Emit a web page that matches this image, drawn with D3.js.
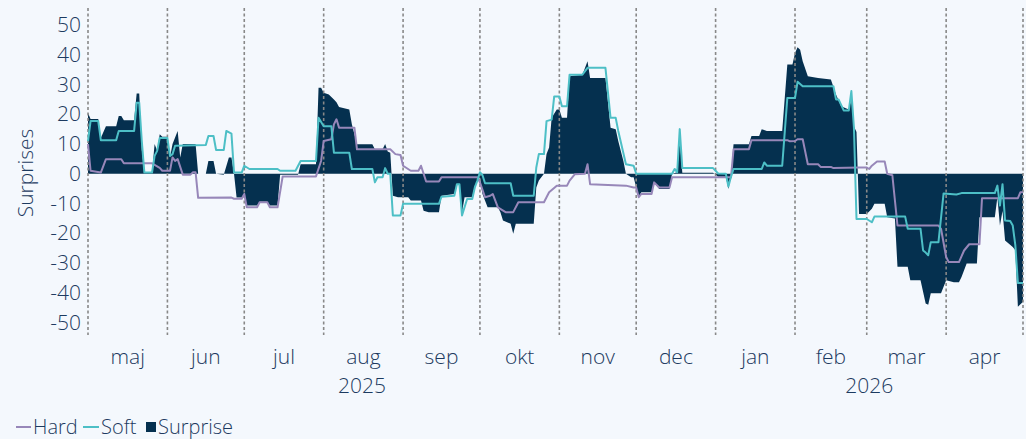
<!DOCTYPE html>
<html>
<head>
<meta charset="utf-8">
<script src="https://cdn.jsdelivr.net/npm/d3@7"></script>
<style>
  html, body { margin: 0; padding: 0; background: #f4f8fd; }
  svg { display: block; font-family: "Open Sans", "Lato", sans-serif; font-weight: 300; }
</style>
</head>
<body>
<svg id="chart-svg"></svg>
<script>
// month labels (Danish) and year labels
const monthLabels = ["maj", "jun", "jul", "aug", "sep", "okt", "nov", "dec", "jan", "feb", "mar", "apr"];
const yearLabels = [["2025", "2025-08-16"], ["2026", "2026-03-02"]];
const yTicks = [50, 40, 30, 20, 10, 0, -10, -20, -30, -40, -50];

const hard = [
  ["2025-05-01", 10], ["2025-05-02", 1], ["2025-05-06", 0.4], ["2025-05-08", 4.9], ["2025-05-14", 4.9],
  ["2025-05-15", 3.5], ["2025-05-26", 3.5], ["2025-05-29", 2], ["2025-05-30", 1], ["2025-06-02", 1],
  ["2025-06-03", 5.5], ["2025-06-04", 4.3], ["2025-06-05", 4.9], ["2025-06-07", -0.3], ["2025-06-10", -0.3],
  ["2025-06-11", 0.5], ["2025-06-12", 0.5], ["2025-06-13", -8.1], ["2025-06-26", -8], ["2025-06-27", -8.4],
  ["2025-06-30", -8.4], ["2025-07-01", -6.8], ["2025-07-02", -11.3], ["2025-07-06", -11.3], ["2025-07-07", -9.6],
  ["2025-07-10", -9.6], ["2025-07-11", -11.3], ["2025-07-14", -11.3], ["2025-07-16", -0.9], ["2025-07-29", -0.9],
  ["2025-07-31", 4.3], ["2025-08-01", 11], ["2025-08-04", 11.6], ["2025-08-05", 16.6], ["2025-08-06", 18.3],
  ["2025-08-07", 15.5], ["2025-08-13", 15.5], ["2025-08-14", 8.2], ["2025-08-27", 8.2], ["2025-08-29", 6.6],
  ["2025-08-31", 6.3], ["2025-09-01", 2.7], ["2025-09-04", 1], ["2025-09-07", 1], ["2025-09-08", 2.7],
  ["2025-09-10", -2.6], ["2025-09-15", -2.6], ["2025-09-16", -1.2], ["2025-09-30", -1.2], ["2025-10-01", -2.9],
  ["2025-10-03", -7.9], ["2025-10-05", -7.4], ["2025-10-06", -6.8], ["2025-10-08", -11.3], ["2025-10-11", -12.9],
  ["2025-10-14", -12.9], ["2025-10-16", -9.6], ["2025-10-26", -9.6], ["2025-10-28", -6.2], ["2025-10-31", -4],
  ["2025-11-04", -4], ["2025-11-05", -2.3], ["2025-11-07", -0.2], ["2025-11-11", 0], ["2025-11-12", 3.2],
  ["2025-11-13", -3.5], ["2025-11-27", -4], ["2025-11-30", -4.6], ["2025-12-01", -4.6], ["2025-12-02", -7.9],
  ["2025-12-03", -6.8], ["2025-12-07", -6.8], ["2025-12-08", -2.9], ["2025-12-10", -4.6], ["2025-12-14", -4.6],
  ["2025-12-15", -1.2], ["2026-01-07", -1.2], ["2026-01-08", 8.2], ["2026-01-14", 8.2], ["2026-01-15", 11.3],
  ["2026-01-29", 11.3], ["2026-01-30", 10.9], ["2026-02-01", 11], ["2026-02-02", 11.6], ["2026-02-04", 11.6],
  ["2026-02-06", 3.2], ["2026-02-10", 3.2], ["2026-02-11", 2.3], ["2026-02-15", 2.3], ["2026-02-16", 1.9],
  ["2026-02-26", 2.1], ["2026-03-01", 2.1], ["2026-03-02", 1.6], ["2026-03-03", 2.7], ["2026-03-05", 4.1],
  ["2026-03-08", 4.1], ["2026-03-09", 0], ["2026-03-11", -0.5], ["2026-03-13", -17.4], ["2026-03-29", -17.4],
  ["2026-03-30", -18.5], ["2026-04-01", -28], ["2026-04-02", -29.7], ["2026-04-06", -29.7], ["2026-04-08", -25.8],
  ["2026-04-10", -23.7], ["2026-04-14", -23.7], ["2026-04-15", -8.2], ["2026-04-29", -8.2], ["2026-04-30", -6.2],
  ["2026-05-01", -6.2]
];

const soft = [
  ["2025-05-01", 11], ["2025-05-02", 17.7], ["2025-05-05", 17.7], ["2025-05-06", 11.3], ["2025-05-12", 11.3],
  ["2025-05-13", 14.4], ["2025-05-19", 14.4], ["2025-05-20", 23.9], ["2025-05-21", 23.9], ["2025-05-22", 11],
  ["2025-05-23", 0.4], ["2025-05-26", 0.4], ["2025-05-27", 6], ["2025-05-28", 7.7], ["2025-05-29", 12],
  ["2025-06-01", 12], ["2025-06-02", 6], ["2025-06-03", 6.6], ["2025-06-04", 9.4], ["2025-06-16", 9.7],
  ["2025-06-17", 12.7], ["2025-06-19", 12.7], ["2025-06-20", 8], ["2025-06-23", 8], ["2025-06-24", 14.4],
  ["2025-06-26", 13.5], ["2025-06-27", 0.4], ["2025-06-30", 0.4], ["2025-07-01", 2.7], ["2025-07-03", 1.6],
  ["2025-07-14", 1.6], ["2025-07-15", 1], ["2025-07-21", 1], ["2025-07-23", 4.3], ["2025-07-29", 4.3],
  ["2025-07-30", 18.8], ["2025-08-01", 16], ["2025-08-04", 16], ["2025-08-05", 7.1], ["2025-08-11", 7.1],
  ["2025-08-12", 1.6], ["2025-08-20", 1.6], ["2025-08-21", -2.9], ["2025-08-22", -1.2], ["2025-08-24", -1.2],
  ["2025-08-25", 1.9], ["2025-08-26", 0], ["2025-08-27", 0], ["2025-08-28", -14], ["2025-08-31", -14],
  ["2025-09-01", -10.1], ["2025-09-15", -10.1], ["2025-09-16", -7.7], ["2025-09-21", -7.4], ["2025-09-22", -3.5],
  ["2025-09-23", -3.5], ["2025-09-24", -14], ["2025-09-26", -8.5], ["2025-09-28", -8.5], ["2025-09-29", -4.6],
  ["2025-09-30", -2.3], ["2025-10-01", 0.5], ["2025-10-02", -0.5], ["2025-10-03", -3.2], ["2025-10-13", -3.2],
  ["2025-10-14", -7.4], ["2025-10-22", -7.4], ["2025-10-23", 2.1], ["2025-10-24", 6.6], ["2025-10-26", 6.6],
  ["2025-10-27", 17.7], ["2025-10-29", 18.2], ["2025-10-30", 26], ["2025-11-01", 26], ["2025-11-02", 22.7],
  ["2025-11-04", 22.7], ["2025-11-05", 33.3], ["2025-11-10", 33.3], ["2025-11-12", 35.6], ["2025-11-19", 35.6],
  ["2025-11-21", 18.8], ["2025-11-23", 18.8], ["2025-11-24", 14.4], ["2025-11-27", 3.2], ["2025-11-30", 2.7],
  ["2025-12-01", 0], ["2025-12-15", 0], ["2025-12-16", 1.6], ["2025-12-17", 0.5], ["2025-12-18", 15],
  ["2025-12-19", 1.9], ["2025-12-31", 1.9], ["2026-01-02", 0.1], ["2026-01-05", 0], ["2026-01-06", -4.3],
  ["2026-01-07", -1], ["2026-01-08", 1.6], ["2026-01-19", 1.6], ["2026-01-20", 3.8], ["2026-01-21", 2.7],
  ["2026-01-27", 2.7], ["2026-01-29", 25.5], ["2026-02-01", 25.5], ["2026-02-02", 30.9], ["2026-02-04", 29.4],
  ["2026-02-16", 29.4], ["2026-02-17", 25], ["2026-02-18", 25], ["2026-02-20", 21.3], ["2026-02-22", 21.3],
  ["2026-02-23", 27.8], ["2026-02-24", 15.5], ["2026-02-25", -15.2], ["2026-03-01", -15.2], ["2026-03-03", -16.3],
  ["2026-03-04", -14.4], ["2026-03-16", -14.4], ["2026-03-17", -18.5], ["2026-03-22", -18.5], ["2026-03-23", -25.8],
  ["2026-03-24", -26.5], ["2026-03-25", -27.4], ["2026-03-26", -23], ["2026-03-29", -23], ["2026-03-31", -6.6],
  ["2026-04-05", -7], ["2026-04-07", -6.5], ["2026-04-20", -6.5], ["2026-04-21", -4], ["2026-04-22", -10.7],
  ["2026-04-23", -3.5], ["2026-04-24", -15.7], ["2026-04-26", -15.9], ["2026-04-27", -17.4], ["2026-04-28", -24],
  ["2026-04-29", -36.7], ["2026-05-01", -36.7]
];

const surprise = [
  ["2025-05-01", 20.4], ["2025-05-02", 18.4], ["2025-05-05", 18.4], ["2025-05-06", 12], ["2025-05-08", 16],
  ["2025-05-12", 16], ["2025-05-13", 19.4], ["2025-05-14", 19.4], ["2025-05-15", 18], ["2025-05-19", 18],
  ["2025-05-20", 27], ["2025-05-21", 27], ["2025-05-22", 8], ["2025-05-23", 0.5], ["2025-05-26", 0.5],
  ["2025-05-27", 10], ["2025-05-28", 7.7], ["2025-05-29", 13.3], ["2025-05-30", 12.4], ["2025-06-01", 12.4],
  ["2025-06-02", 5.5], ["2025-06-03", 10], ["2025-06-05", 14.4], ["2025-06-06", 5.5], ["2025-06-07", 10],
  ["2025-06-12", 10], ["2025-06-13", 0], ["2025-06-16", 0], ["2025-06-17", 4.3], ["2025-06-19", 4.3],
  ["2025-06-20", 0], ["2025-06-23", -0.3], ["2025-06-25", 5.5], ["2025-06-26", 5.5], ["2025-06-27", 0],
  ["2025-06-28", -8], ["2025-06-30", -8], ["2025-07-01", -7], ["2025-07-02", -10.7], ["2025-07-06", -10.7],
  ["2025-07-07", -9.4], ["2025-07-10", -9.4], ["2025-07-11", -10.7], ["2025-07-14", -10.7], ["2025-07-15", -0.3],
  ["2025-07-22", -0.3], ["2025-07-23", 3.2], ["2025-07-29", 3.2], ["2025-07-30", 28.9], ["2025-07-31", 28.9],
  ["2025-08-01", 27.2], ["2025-08-03", 26.6], ["2025-08-05", 25], ["2025-08-06", 24], ["2025-08-07", 22.4],
  ["2025-08-11", 21.6], ["2025-08-12", 16.6], ["2025-08-14", 9.9], ["2025-08-20", 9.9], ["2025-08-21", 8.2],
  ["2025-08-24", 8.2], ["2025-08-25", 10], ["2025-08-26", 7.5], ["2025-08-27", 7.1], ["2025-08-28", -7.4],
  ["2025-08-30", -7.9], ["2025-09-03", -7.9], ["2025-09-04", -9], ["2025-09-08", -9], ["2025-09-09", -12.4],
  ["2025-09-11", -12.9], ["2025-09-15", -12.9], ["2025-09-16", -7.4], ["2025-09-21", -6.8], ["2025-09-22", -3.5],
  ["2025-09-23", -3.5], ["2025-09-24", -13], ["2025-09-25", -7.9], ["2025-09-28", -7.9], ["2025-09-29", -4],
  ["2025-10-01", -1.2], ["2025-10-02", -6.8], ["2025-10-04", -11.3], ["2025-10-08", -11.3], ["2025-10-09", -12.9],
  ["2025-10-10", -15.7], ["2025-10-13", -16.8], ["2025-10-14", -20.2], ["2025-10-15", -16.8], ["2025-10-22", -16.8],
  ["2025-10-23", -4.6], ["2025-10-24", -2.3], ["2025-10-26", 0], ["2025-10-27", 6.6], ["2025-10-28", 8.8],
  ["2025-10-29", 18.8], ["2025-10-31", 21.6], ["2025-11-01", 21.6], ["2025-11-02", 18.8], ["2025-11-04", 18.8],
  ["2025-11-05", 32.8], ["2025-11-10", 33.3], ["2025-11-12", 37.8], ["2025-11-13", 32.2], ["2025-11-19", 32.2],
  ["2025-11-21", 15.5], ["2025-11-23", 15], ["2025-11-24", 11], ["2025-11-26", 4.3], ["2025-11-27", 0],
  ["2025-11-29", -1.2], ["2025-11-30", -1.2], ["2025-12-02", -7.9], ["2025-12-03", -6.2], ["2025-12-07", -6.2],
  ["2025-12-08", -3], ["2025-12-10", -5.1], ["2025-12-14", -5.1], ["2025-12-15", 0], ["2025-12-17", 0.5],
  ["2025-12-18", 12], ["2025-12-19", 0.3], ["2025-12-31", 0.3], ["2026-01-02", -1], ["2026-01-05", -1],
  ["2026-01-06", -5.1], ["2026-01-07", -1], ["2026-01-08", 9.9], ["2026-01-14", 9.9], ["2026-01-15", 12.7],
  ["2026-01-18", 12.7], ["2026-01-19", 15], ["2026-01-21", 14.4], ["2026-01-27", 14.4], ["2026-01-29", 36.7],
  ["2026-01-31", 36.7], ["2026-02-01", 40.6], ["2026-02-02", 42.5], ["2026-02-03", 41.7], ["2026-02-04", 37.8],
  ["2026-02-06", 32.8], ["2026-02-10", 32.2], ["2026-02-15", 31.7], ["2026-02-17", 26.6], ["2026-02-19", 22.7],
  ["2026-02-22", 21.6], ["2026-02-23", 25], ["2026-02-24", 16], ["2026-02-25", 14], ["2026-02-26", -13.5],
  ["2026-03-01", -13.5], ["2026-03-03", -11.8], ["2026-03-04", -10.1], ["2026-03-08", -10.1], ["2026-03-09", -14.6],
  ["2026-03-12", -15], ["2026-03-13", -31.3], ["2026-03-17", -31.3], ["2026-03-18", -35.8], ["2026-03-22", -35.8],
  ["2026-03-24", -43.6], ["2026-03-25", -44], ["2026-03-26", -40.2], ["2026-03-30", -40.2], ["2026-04-01", -35.8],
  ["2026-04-04", -36.5], ["2026-04-06", -36.5], ["2026-04-07", -34.7], ["2026-04-09", -30.2], ["2026-04-13", -30.2],
  ["2026-04-14", -14.6], ["2026-04-20", -14.6], ["2026-04-21", -7.9], ["2026-04-22", -17.4], ["2026-04-23", -12.5],
  ["2026-04-24", -22.4], ["2026-04-27", -24.6], ["2026-04-28", -25.7], ["2026-04-29", -44.7], ["2026-05-01", -43]
];

const parse = d3.timeParse("%Y-%m-%d");
function toPoints(arr) {
  return arr.map(function(d) { return { date: parse(d[0]), value: d[1] }; });
}
const hardData = toPoints(hard), softData = toPoints(soft), surpriseData = toPoints(surprise);

const width = 1026, height = 439;
const colNavy = "#05304f", colTeal = "#4dbfc6", colPurple = "#9787b9", colText = "#1c3a60";

const svg = d3.select("#chart-svg").attr("width", width).attr("height", height);

const x = d3.scaleTime()
  .domain([parse("2025-05-01"), parse("2026-05-01")])
  .range([88, 1023]);
const y = d3.scaleLinear().domain([-50, 50]).range([322.5, 25]);

// surprise area
svg.append("path")
  .datum(surpriseData)
  .attr("fill", colNavy)
  .attr("d", d3.area().x(function(d) { return x(d.date); }).y0(y(0)).y1(function(d) { return y(d.value); }));

// month grid lines
const monthStarts = d3.timeMonth.range(parse("2025-05-01"), d3.timeDay.offset(parse("2026-05-01"), 1));
svg.append("g").selectAll("line")
  .data(monthStarts)
  .enter()
  .append("line")
  .attr("x1", function(d) { return x(d); })
  .attr("x2", function(d) { return x(d); })
  .attr("y1", 8)
  .attr("y2", 335)
  .attr("stroke", "#888888")
  .attr("stroke-width", 1.6)
  .attr("stroke-dasharray", "3,2.5");

const line = d3.line().x(function(d) { return x(d.date); }).y(function(d) { return y(d.value); });
svg.append("path").datum(hardData)
  .attr("fill", "none").attr("stroke", colPurple).attr("stroke-width", 2).attr("stroke-linejoin", "round")
  .attr("d", line);
svg.append("path").datum(softData)
  .attr("fill", "none").attr("stroke", colTeal).attr("stroke-width", 2).attr("stroke-linejoin", "round")
  .attr("d", line);

// y axis labels
const yAxis = svg.append("g")
  .attr("transform", "translate(81,0)")
  .call(d3.axisLeft(y).tickValues(yTicks).tickSize(0).tickPadding(0).tickFormat(function(d) { return String(d); }));
yAxis.select(".domain").remove();
yAxis.selectAll("text")
  .attr("fill", colText)
  .style("font-size", "21px")
  .style("font-family", "'Open Sans', Lato, sans-serif")
  .style("font-weight", 300);

svg.append("text")
  .attr("transform", "translate(33,173) rotate(-90)")
  .attr("text-anchor", "middle")
  .attr("fill", colText)
  .style("font-size", "21px")
  .text("Surprises");

// month labels, centred in each month
svg.append("g").selectAll("text")
  .data(monthStarts.slice(0, 12))
  .enter()
  .append("text")
  .attr("x", function(d) { return (x(d) + x(d3.timeMonth.offset(d, 1))) / 2; })
  .attr("y", 364)
  .attr("text-anchor", "middle")
  .attr("fill", colText)
  .style("font-size", "21px")
  .text(function(d, i) { return monthLabels[i]; });

svg.append("g").selectAll("text")
  .data(yearLabels)
  .enter()
  .append("text")
  .attr("x", function(d) { return x(parse(d[1])); })
  .attr("y", 393)
  .attr("text-anchor", "middle")
  .attr("fill", colText)
  .style("font-size", "21px")
  .text(function(d) { return d[0]; });

// legend
const legend = svg.append("g").style("font-size", "20px").attr("fill", colText);
legend.append("line").attr("x1", 16).attr("x2", 31).attr("y1", 427).attr("y2", 427)
  .attr("stroke", colPurple).attr("stroke-width", 2);
legend.append("text").attr("x", 33).attr("y", 434).text("Hard");
legend.append("line").attr("x1", 83).attr("x2", 99).attr("y1", 427).attr("y2", 427)
  .attr("stroke", colTeal).attr("stroke-width", 2);
legend.append("text").attr("x", 101).attr("y", 434).text("Soft");
legend.append("rect").attr("x", 146).attr("y", 422).attr("width", 10).attr("height", 10).attr("fill", colNavy);
legend.append("text").attr("x", 158).attr("y", 434).text("Surprise");
</script>
</body>
</html>
